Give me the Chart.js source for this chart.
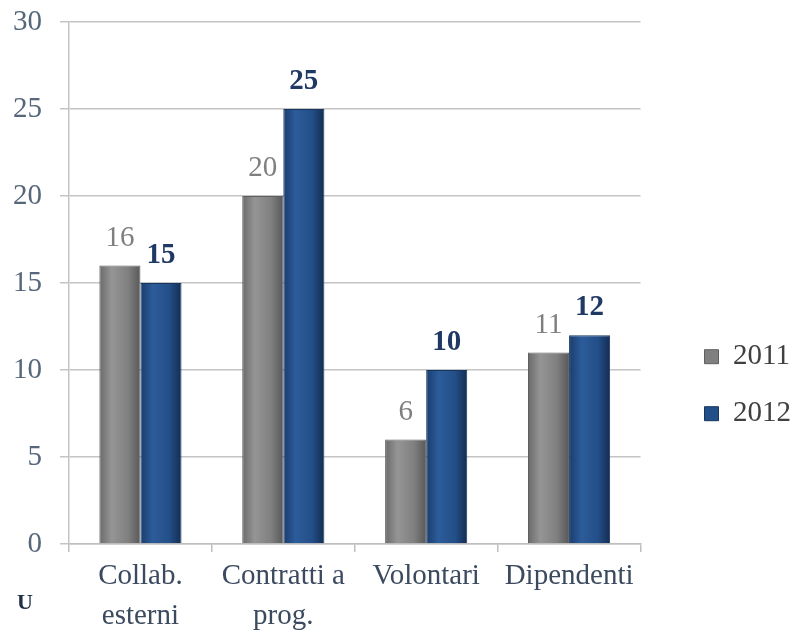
<!DOCTYPE html>
<html><head><meta charset="utf-8">
<script src="https://cdn.jsdelivr.net/npm/chart.js@4.4.1/dist/chart.umd.min.js"></script>
<style>html,body{margin:0;padding:0;background:#fff}#w{width:801px;height:630px}</style>
</head><body><div id="w"><canvas id="c" width="801" height="630"></canvas></div>
<script>
const categories = [["Collab.","esterni"],["Contratti a","prog."],["Volontari"],["Dipendenti"]];
const seriesNames = ["2011","2012"];
const values2011 = [16,20,6,11];
const values2012 = [15,25,10,12];
const yTicks = [0,5,10,15,20,25,30];

const FONT = "'Liberation Serif', 'DejaVu Serif', serif";
const CAT_PCT = 0.575;

function barFill(di, stops, solid){
  return function(c){
    const chart = c.chart, xs = chart.scales && chart.scales.x;
    if(!chart.chartArea || !xs || c.dataIndex === undefined) return solid;
    const center = xs.getPixelForValue(c.dataIndex);
    const w = (xs.width / chart.data.labels.length) * CAT_PCT / 2;
    const x0 = di === 0 ? center - w : center;
    const g = chart.ctx.createLinearGradient(x0, 0, x0 + w, 0);
    stops.forEach(s => g.addColorStop(s[0], s[1]));
    return g;
  };
}

const labelPlugin = {
  id:'vlabels',
  afterDatasetsDraw(chart){
    const ctx = chart.ctx;
    ctx.save();
    chart.data.datasets.forEach((ds,di)=>{
      const meta = chart.getDatasetMeta(di);
      meta.data.forEach((el,i)=>{
        ctx.font = (di===1?'bold ':'') + '29px ' + FONT;
        ctx.fillStyle = di===1 ? '#1f3864' : '#7f7f7f';
        ctx.textAlign='center';
        ctx.textBaseline='alphabetic';
        ctx.fillText(String(ds.data[i]), el.x, el.y - 20);
      });
    });
    ctx.font = 'bold 22px ' + FONT;
    ctx.fillStyle='#1f2f45';
    ctx.textAlign='center';
    ctx.fillText('U', 25, 609);
    ctx.restore();
  }
};

new Chart(document.getElementById('c'),{
  type:'bar',
  data:{
    labels:categories,
    datasets:[
      {label:seriesNames[0],data:values2011,
       backgroundColor:barFill(0,[[0,'#6a6a6a'],[0.3,'#959595'],[0.7,'#808080'],[1,'#585858']],'#808080'),
       borderColor:'#5f5f5f',borderWidth:1,barPercentage:1,categoryPercentage:CAT_PCT},
      {label:seriesNames[1],data:values2012,
       backgroundColor:barFill(1,[[0,'#1a3d6d'],[0.3,'#2c5c9a'],[0.7,'#234f88'],[1,'#132c52']],'#234f88'),
       borderColor:'#16365f',borderWidth:1,barPercentage:1,categoryPercentage:CAT_PCT}
    ]
  },
  options:{
    responsive:false,animation:false,
    layout:{padding:{top:22,right:0,left:0,bottom:0}},
    plugins:{
      legend:{
        position:'right',align:'start',
        title:{display:true,text:' ',font:{size:1},padding:{top:0,bottom:291}},
        labels:{boxWidth:14,boxHeight:14,padding:28,color:'#404040',font:{family:FONT,size:29},
          generateLabels(chart){
            return chart.data.datasets.map((d,i)=>({text:d.label,fillStyle:i===0?'#808080':'#234f88',strokeStyle:i===0?'#5f5f5f':'#16365f',lineWidth:1,datasetIndex:i,hidden:false,fontColor:'#404040'}));
          }}
      },
      tooltip:{enabled:false}
    },
    scales:{
      x:{
        offset:true,
        grid:{display:true,offset:true,drawOnChartArea:false,drawTicks:true,tickLength:8,color:'#bfbfbf',lineWidth:1.5},
        border:{display:true,color:'#bfbfbf',width:1.5},
        ticks:{color:'#3b4a5e',font:{family:FONT,size:29,lineHeight:1.38},padding:4,maxRotation:0,autoSkip:false},
        afterFit(s){s.height=86;}
      },
      y:{
        min:0,max:30,
        afterBuildTicks(s){s.ticks=yTicks.map(v=>({value:v}));},
        grid:{color:'#c4c4c4',lineWidth:1.5,tickLength:9},
        border:{display:true,color:'#c4c4c4',width:1.5},
        ticks:{color:'#56677c',font:{family:FONT,size:29},padding:18},
        afterFit(s){s.width=69;s.paddingTop=0;s.paddingBottom=0;}
      },
      y2:{
        position:'right',display:true,
        grid:{display:false},border:{display:false},ticks:{display:false},
        afterFit(s){s.width=36;}
      }
    }
  },
  plugins:[labelPlugin]
});
</script></body></html>
